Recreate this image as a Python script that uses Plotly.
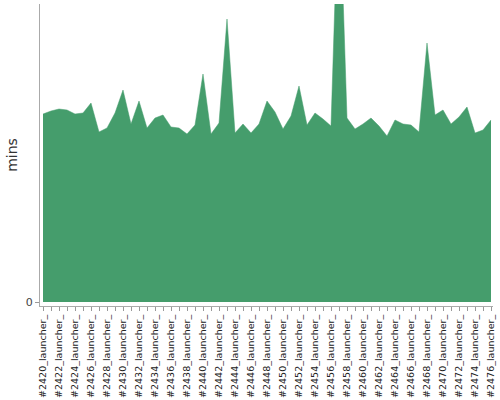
import plotly.graph_objects as go

builds = ["#%d_launcher_" % n for n in range(2420, 2477)]
mins = [18.8, 19.1, 19.3, 19.2, 18.8, 18.9, 19.9, 17.0, 17.4, 18.9,
        21.2, 17.8, 20.1, 17.4, 18.4, 18.7, 17.5, 17.4, 16.8, 17.7,
        22.8, 16.8, 17.9, 28.3, 16.9, 17.8, 16.9, 17.8, 20.1, 19.0,
        17.3, 18.6, 21.6, 17.7, 18.9, 18.3, 17.6, 43.0, 18.4, 17.3,
        17.8, 18.4, 17.6, 16.6, 18.2, 17.8, 17.7, 17.0, 25.9, 18.7,
        19.2, 17.8, 18.5, 19.5, 16.9, 17.2, 18.2]

# every category gets a tick, only every other one a label
tick_text = [b if i % 2 == 0 else "" for i, b in enumerate(builds)]

fig = go.Figure(go.Scatter(
    x=builds, y=mins,
    mode="lines", fill="tozeroy",
    line=dict(color="#459d6c", width=0.5),
    fillcolor="#459d6c",
    hoverinfo="x+y",
))

fig.update_layout(
    width=500, height=400,
    margin=dict(l=40, r=7, t=4, b=94, autoexpand=False),
    paper_bgcolor="white", plot_bgcolor="white",
    font=dict(family="DejaVu Sans", color="#333"),
    showlegend=False,
)
fig.update_xaxes(
    type="category", range=[-0.375, 56.25], automargin=False,
    tickmode="array", tickvals=builds, ticktext=tick_text,
    tickangle=-90, tickfont=dict(size=9.5, color="#222"),
    ticks="outside", ticklen=4, tickcolor="#999",
    showline=True, linecolor="#aaa", linewidth=1,
    showgrid=False, zeroline=False,
)
fig.update_yaxes(
    range=[-0.4, 29.8], tickvals=[0], automargin=False,
    tickfont=dict(size=11, color="#444"),
    ticks="outside", ticklen=4, tickcolor="#999",
    showline=True, linecolor="#aaa", linewidth=1,
    showgrid=False, zeroline=False,
    title=dict(text="mins", font=dict(size=14, color="#333"), standoff=4),
)

# drop the browser's default body margin so the chart sits at the page corner
fig.write_html("out.html", config={"displayModeBar": False},
               post_script="document.body.style.margin='0';")
